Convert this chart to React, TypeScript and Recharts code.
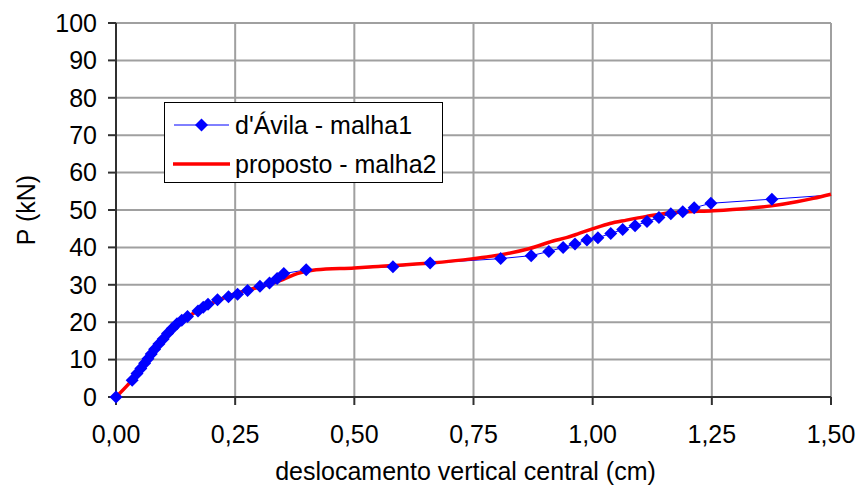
import React from 'react';
import { LineChart, Line, XAxis, YAxis, CartesianGrid, Legend } from 'recharts';

// d'Ávila - malha1 (blue, diamonds)
const avilaX = [0, 0.034, 0.044, 0.052, 0.06, 0.067, 0.074, 0.081, 0.09, 0.099, 0.108, 0.118, 0.128, 0.138, 0.15, 0.172, 0.183, 0.193, 0.213, 0.236, 0.255, 0.276, 0.302, 0.322, 0.338, 0.352, 0.399, 0.581, 0.659, 0.807, 0.871, 0.908, 0.938, 0.963, 0.988, 1.011, 1.038, 1.063, 1.089, 1.114, 1.139, 1.164, 1.189, 1.213, 1.248, 1.376, 1.5];
const avilaY = [0, 4.5, 6.3, 7.6, 9.0, 10.2, 11.5, 12.8, 14.2, 15.5, 17.0, 18.3, 19.6, 20.5, 21.5, 23.0, 24.0, 24.8, 26.0, 26.8, 27.5, 28.5, 29.6, 30.5, 31.7, 33.0, 34.0, 34.8, 35.8, 37.0, 37.8, 38.9, 40.0, 40.9, 42.0, 42.6, 43.7, 44.8, 45.8, 46.9, 48.0, 49.0, 49.5, 50.6, 51.8, 52.9, 54.0];

// proposto - malha2 (red line)
const propX = [0, 0.03, 0.06, 0.1, 0.15, 0.2, 0.25, 0.3, 0.35, 0.38, 0.42, 0.5, 0.55, 0.66, 0.75, 0.806, 0.868, 0.917, 0.945, 0.973, 1.001, 1.036, 1.071, 1.113, 1.148, 1.183, 1.253, 1.323, 1.375, 1.428, 1.463, 1.5];
const propY = [0, 4.0, 8.7, 15.2, 21.3, 25.0, 27.6, 29.4, 31.4, 33.0, 34.0, 34.5, 34.9, 35.8, 37.0, 38.0, 39.7, 41.7, 42.6, 43.8, 45.0, 46.4, 47.3, 48.3, 49.0, 49.4, 49.8, 50.4, 51.1, 52.2, 53.1, 54.2];

const xTicks = [0, 0.25, 0.5, 0.75, 1.0, 1.25, 1.5];
const yTicks = [0, 10, 20, 30, 40, 50, 60, 70, 80, 90, 100];

const avilaData = avilaX.map((x, i) => ({ x, y: avilaY[i] }));
const propData = propX.map((x, i) => ({ x, y: propY[i] }));

const FONT = '"Liberation Sans", Arial, sans-serif';

const Diamond = (props: any) => {
  const { cx, cy, index } = props;
  if (index === avilaData.length - 1 || cx == null || cy == null) return <g key={`d-${index}`} />;
  const r = 6.5;
  return (
    <path
      key={`d-${index}`}
      d={`M${cx},${cy - r}L${cx + r},${cy}L${cx},${cy + r}L${cx - r},${cy}Z`}
      fill="#0000ff"
      stroke="none"
    />
  );
};

const LegendBox = () => (
  <div
    style={{
      width: 279,
      height: 81,
      border: '1px solid #000',
      background: '#fff',
      boxSizing: 'border-box',
      position: 'relative',
      fontFamily: FONT,
      fontSize: 25,
      color: '#000',
    }}
  >
    <svg width={70} height={81} style={{ position: 'absolute', left: 0, top: 0 }}>
      <line x1={9} y1={22} x2={64} y2={22} stroke="#0000ff" strokeWidth={1} />
      <path d="M36.5,15.5L43,22L36.5,28.5L30,22Z" fill="#0000ff" />
      <line x1={8} y1={61} x2={65} y2={61} stroke="#ff0000" strokeWidth={3.5} />
    </svg>
    <div style={{ position: 'absolute', left: 70, top: 22, transform: 'translateY(-50%)', whiteSpace: 'nowrap', lineHeight: 1 }}>
      d'Ávila - malha1
    </div>
    <div style={{ position: 'absolute', left: 70, top: 61, transform: 'translateY(-50%)', whiteSpace: 'nowrap', lineHeight: 1 }}>
      proposto - malha2
    </div>
  </div>
);

export default function App() {
  return (
    <div style={{ position: 'absolute', left: 0, top: 0, width: 857, height: 494, background: '#fff' }}>
      <LineChart
        width={857}
        height={494}
        margin={{ top: 23, right: 26, left: 0, bottom: 0 }}
        style={{ fontFamily: FONT }}
      >
        <CartesianGrid stroke="#a0a0a0" strokeWidth={2} />
        <XAxis
          type="number"
          dataKey="x"
          domain={[0, 1.5]}
          ticks={xTicks}
          interval={0}
          height={97}
          tickSize={8}
          tickMargin={20}
          tickFormatter={(v: number) => v.toFixed(2).replace('.', ',')}
          tick={{ fill: '#000', fontSize: 25, fontFamily: FONT }}
          axisLine={{ stroke: '#303030', strokeWidth: 2 }}
          tickLine={{ stroke: '#303030', strokeWidth: 2 }}
          label={{ value: 'deslocamento vertical central (cm)', position: 'insideBottom', offset: 14, dx: -8, fill: '#000', fontSize: 25, fontFamily: FONT }}
        />
        <YAxis
          type="number"
          dataKey="y"
          domain={[0, 100]}
          ticks={yTicks}
          interval={0}
          width={116}
          tickSize={8}
          tickMargin={11}
          tick={{ fill: '#000', fontSize: 25, fontFamily: FONT }}
          axisLine={{ stroke: '#303030', strokeWidth: 2 }}
          tickLine={{ stroke: '#303030', strokeWidth: 2 }}
          label={{ value: 'P (kN)', angle: -90, position: 'center', dx: -32, fill: '#000', fontSize: 25, fontFamily: FONT }}
        />
        <Legend
          layout="vertical"
          align="center"
          verticalAlign="middle"
          wrapperStyle={{ left: 164, top: 102, width: 279, height: 81 }}
          content={() => <LegendBox />}
        />
        <Line
          data={avilaData}
          dataKey="y"
          type="linear"
          stroke="#0000ff"
          strokeWidth={1}
          dot={Diamond}
          activeDot={false}
          isAnimationActive={false}
          name="d'Ávila - malha1"
        />
        <Line
          data={propData}
          dataKey="y"
          type="monotone"
          stroke="#ff0000"
          strokeWidth={3.5}
          dot={false}
          activeDot={false}
          isAnimationActive={false}
          name="proposto - malha2"
        />
      </LineChart>
    </div>
  );
}
